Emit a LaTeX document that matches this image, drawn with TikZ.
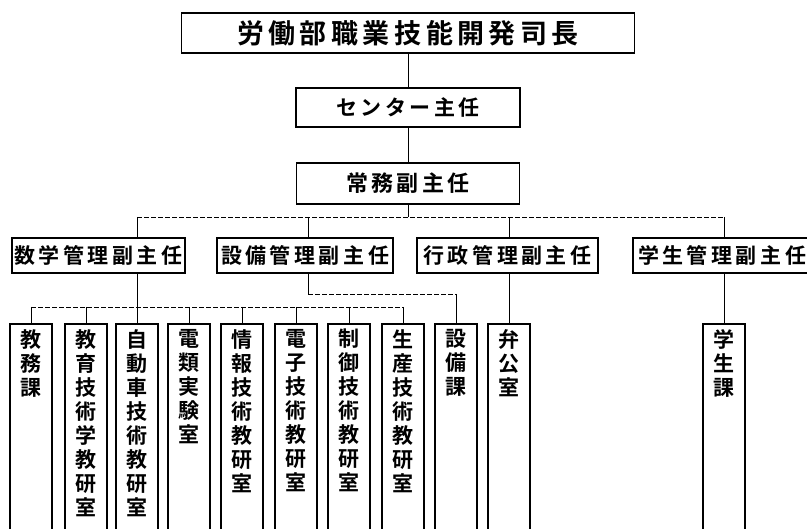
\documentclass[tikz,border=0pt]{standalone}
\usepackage{fontspec}
\newfontfamily\cjk[BoldFont={Noto Sans CJK JP Bold}]{Noto Sans CJK JP}
\newcommand\ks{\hspace{3.5pt}}
\newcommand\botbox[3]{%
  \node[bbox] (#1) at (#2,323) {};
  \node[vtext] (#1t) at ([yshift=-6pt]#1.north) {#3};}
\tikzset{
  box/.style={draw, line width=1.8pt, inner sep=0pt},
  bbox/.style={draw, line width=1.8pt, minimum width=42, minimum height=230, anchor=north, inner sep=0pt},
  vtext/.style={anchor=north, align=center, inner sep=0pt, font=\cjk\bfseries\fontsize{21}{24}\selectfont},
  midbox/.style={box, minimum height=35, font=\cjk\bfseries\fontsize{21}{24}\selectfont},
  vline/.style={line width=0.9pt},
  hline/.style={line width=0.8pt, dash pattern=on 5pt off 2pt}
}
\begin{document}
\begin{tikzpicture}[x=1pt,y=-1pt]
\useasboundingbox (0,0) rectangle (807,529);
\fill[white] (0,0) rectangle (807,529);
\clip (0,0) rectangle (807,529);

% top chain
\node[box, minimum width=453, minimum height=40, font=\cjk\bfseries\fontsize{27}{30}\selectfont] (top) at (408,33)
  {労\hspace{4.5pt}働\hspace{4.5pt}部\hspace{4.5pt}職\hspace{4.5pt}業\hspace{4.5pt}技\hspace{4.5pt}能\hspace{4.5pt}開\hspace{4.5pt}発\hspace{4.5pt}司\hspace{4.5pt}長};
\node[box, minimum width=224, minimum height=39, font=\cjk\bfseries\fontsize{21}{24}\selectfont] (ctr) at (408,107.5)
  {セ\ks ン\ks タ\ks ー\ks 主\ks 任};
\node[box, minimum width=223, minimum height=41, font=\cjk\bfseries\fontsize{22}{24}\selectfont] (dep) at (408,183.5)
  {常\ks 務\ks 副\ks 主\ks 任};

% middle row
\node[midbox, minimum width=173] (m1) at (98.5,255.5) {数\ks 学\ks 管\ks 理\ks 副\ks 主\ks 任};
\node[midbox, minimum width=176] (m2) at (305,255.5) {設\ks 備\ks 管\ks 理\ks 副\ks 主\ks 任};
\node[midbox, minimum width=181] (m3) at (507.5,255.5) {行\ks 政\ks 管\ks 理\ks 副\ks 主\ks 任};
\node[midbox, minimum width=178] (m4) at (722,255.5) {学\ks 生\ks 管\ks 理\ks 副\ks 主\ks 任};

% bottom row
\botbox{b1}{31}{教\\務\\課}
\botbox{b2}{86}{教\\育\\技\\術\\学\\教\\研\\室}
\botbox{b3}{137}{自\\動\\車\\技\\術\\教\\研\\室}
\botbox{b4}{189}{電\\類\\実\\験\\室}
\botbox{b5}{242}{情\\報\\技\\術\\教\\研\\室}
\botbox{b6}{296}{電\\子\\技\\術\\教\\研\\室}
\botbox{b7}{349}{制\\御\\技\\術\\教\\研\\室}
\botbox{b8}{403}{生\\産\\技\\術\\教\\研\\室}
\botbox{b9}{456}{設\\備\\課}
\botbox{b10}{509}{弁\\公\\室}
\botbox{b11}{724}{学\\生\\課}

% top connectors
\draw[vline] (top) -- (ctr);
\draw[vline] (ctr) -- (dep);
\coordinate (j0) at (408,217);
\coordinate (jL) at (137,217);
\coordinate (j2) at (308,217);
\coordinate (j3) at (509,217);
\coordinate (jR) at (724,217);
\draw[vline] (dep) -- (j0);
\draw[hline] (jL) -- (jR);
\draw[vline] (jL) -- (jL |- m1.north);
\draw[vline] (j2) -- (j2 |- m2.north);
\draw[vline] (j3) -- (j3 |- m3.north);
\draw[vline] (jR) -- (jR |- m4.north);

% 数学 branch
\coordinate (s0) at (137,307);
\draw[vline] (m1.south -| s0) -- (b3.north);
\draw[hline] (b1.north |- s0) -- (b8.north |- s0);
\foreach \b in {b1,b2,b4,b5,b6,b7,b8}
  \draw[vline] (\b.north |- s0) -- (\b.north);

% 設備 branch
\coordinate (e0) at (308,294);
\draw[vline] (m2.south -| e0) -- (e0);
\draw[hline] (e0) -- (e0 -| b9.north);
\draw[vline] (e0 -| b9.north) -- (b9.north);

% 行政 and 学生 branches
\draw[vline] (m3.south -| b10.north) -- (b10.north);
\draw[vline] (m4.south -| b11.north) -- (b11.north);
\end{tikzpicture}
\end{document}
